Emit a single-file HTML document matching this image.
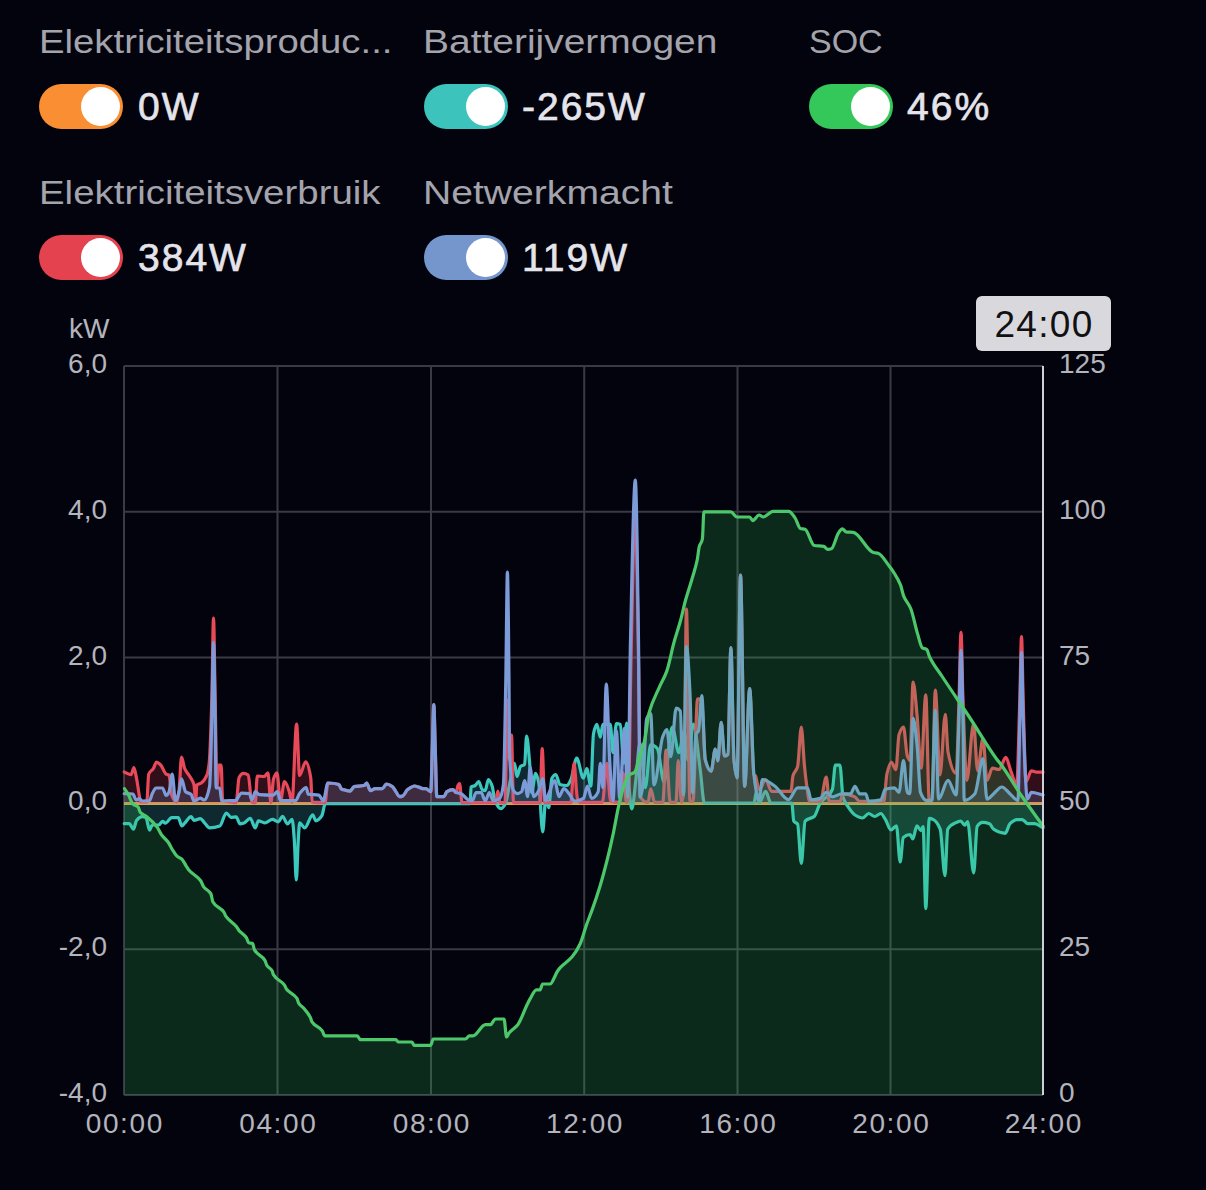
<!DOCTYPE html>
<html><head><meta charset="utf-8"><style>
html,body{margin:0;padding:0;background:#03030d;width:1206px;height:1190px;overflow:hidden;font-family:"Liberation Sans",sans-serif}
.lab{position:absolute;color:#a4a4ac;font-size:33px;line-height:40px;white-space:nowrap;transform-origin:0 0}
.tog{position:absolute;width:84px;height:44.8px;border-radius:22.4px}
.knob{position:absolute;right:3px;top:3px;width:39px;height:39px;border-radius:50%;background:#fff}
.val{position:absolute;color:#e4e4ea;font-size:39px;line-height:48px;letter-spacing:2px;white-space:nowrap;-webkit-text-stroke:0.7px #e4e4ea}
svg{position:absolute;left:0;top:0}
.ln{fill:none;stroke-width:3.2;stroke-linejoin:round;stroke-linecap:round}
.ax{fill:#b4b4bc;font-size:28px;font-family:"Liberation Sans",sans-serif}
</style></head><body>
<div class="lab" style="left:39.3px;top:22px;transform:scaleX(1.161)">Elektriciteitsproduc...</div><div class="tog" style="left:39px;top:83.8px;background:#f98e32"><div class="knob"></div></div><div class="val" style="left:138px;top:82.5px">0W</div><div class="lab" style="left:423.0px;top:22px;transform:scaleX(1.18)">Batterijvermogen</div><div class="tog" style="left:424px;top:83.8px;background:#3cc4bc"><div class="knob"></div></div><div class="val" style="left:522px;top:82.5px">-265W</div><div class="lab" style="left:809.4px;top:22px;transform:scaleX(1.03)">SOC</div><div class="tog" style="left:809px;top:83.8px;background:#34c759"><div class="knob"></div></div><div class="val" style="left:907px;top:82.5px">46%</div><div class="lab" style="left:39.3px;top:173px;transform:scaleX(1.164)">Elektriciteitsverbruik</div><div class="tog" style="left:39px;top:234.8px;background:#e5424f"><div class="knob"></div></div><div class="val" style="left:138px;top:233.5px">384W</div><div class="lab" style="left:423.0px;top:173px;transform:scaleX(1.185)">Netwerkmacht</div><div class="tog" style="left:424px;top:234.8px;background:#7596cc"><div class="knob"></div></div><div class="val" style="left:522px;top:233.5px">119W</div>
<svg width="1206" height="1190" viewBox="0 0 1206 1190">
<g stroke="#3a3a44" stroke-width="2"><line x1="124.0" y1="366" x2="124.0" y2="1095"/><line x1="277.5" y1="366" x2="277.5" y2="1095"/><line x1="431.0" y1="366" x2="431.0" y2="1095"/><line x1="584.2" y1="366" x2="584.2" y2="1095"/><line x1="737.5" y1="366" x2="737.5" y2="1095"/><line x1="890.5" y1="366" x2="890.5" y2="1095"/><line x1="124" y1="366.0" x2="1043" y2="366.0"/><line x1="124" y1="511.8" x2="1043" y2="511.8"/><line x1="124" y1="657.6" x2="1043" y2="657.6"/><line x1="124" y1="803.4" x2="1043" y2="803.4"/><line x1="124" y1="949.2" x2="1043" y2="949.2"/><line x1="124" y1="1095.0" x2="1043" y2="1095.0"/></g>
<line x1="124" y1="803.4" x2="1043" y2="803.4" stroke="#f0a040" stroke-width="3"/>
<path d="M124.2,823.6 C125.9,823.6 127.5,823.6 129.2,823.6 C130.6,823.6 132.0,829.2 133.4,829.2 C134.5,829.2 135.5,821.6 136.6,820.4 C138.5,818.3 140.3,816.7 142.2,816.7 C143.4,816.7 144.7,817.0 145.9,817.6 C147.1,818.2 148.4,830.1 149.6,830.1 C150.5,830.1 151.4,825.0 152.3,825.0 C154.5,825.0 156.6,825.0 158.8,825.0 C160.0,825.0 161.3,821.3 162.5,821.3 C163.4,821.3 164.4,823.2 165.3,823.2 C167.5,823.2 169.6,817.6 171.8,817.6 C173.9,817.6 176.1,817.6 178.2,817.6 C179.4,817.6 180.7,826.0 181.9,826.0 C182.8,826.0 183.8,824.1 184.7,823.2 C186.9,821.0 189.0,816.7 191.2,816.7 C192.1,816.7 193.0,820.4 193.9,820.4 C196.1,820.4 198.2,818.6 200.4,818.6 C201.6,818.6 202.9,821.1 204.1,822.3 C205.9,824.1 207.8,827.8 209.6,827.8 C213.0,827.8 216.4,827.2 219.8,826.0 C222.0,825.3 224.1,813.0 226.3,813.0 C227.9,813.0 229.4,817.3 231.0,817.3 C232.7,817.3 234.4,816.8 236.1,816.8 C237.4,816.8 238.8,823.9 240.1,823.9 C241.5,823.9 242.8,823.4 244.2,822.9 C246.2,822.2 248.2,818.3 250.2,818.3 C251.9,818.3 253.6,827.9 255.3,827.9 C256.3,827.9 257.3,820.8 258.3,820.8 C260.6,820.8 263.0,822.9 265.3,822.9 C267.7,822.9 270.0,819.3 272.4,819.3 C274.4,819.3 276.4,821.8 278.4,821.8 C279.8,821.8 281.1,816.3 282.5,816.3 C284.2,816.3 285.8,823.9 287.5,823.9 C289.0,823.9 290.6,819.3 292.1,819.3 C292.8,819.3 293.6,830.6 294.3,840.0 C295.0,848.6 295.6,880.0 296.3,880.0 C297.0,880.0 297.6,850.4 298.3,840.0 C298.7,833.2 299.2,822.9 299.6,822.9 C301.3,822.9 303.0,827.9 304.7,827.9 C307.4,827.9 310.0,814.8 312.7,814.8 C313.7,814.8 314.8,820.8 315.8,820.8 C317.8,820.8 319.8,818.6 321.8,815.8 C323.0,814.1 324.1,803.7 325.3,803.7 C373.6,803.7 421.8,803.7 470.1,803.7 C470.4,803.7 470.8,787.3 471.1,787.0 C472.5,785.8 473.8,786.3 475.2,785.5 C476.4,784.8 477.5,781.5 478.7,781.5 C479.9,781.5 481.0,788.9 482.2,789.6 C483.2,790.2 484.3,790.6 485.3,790.6 C486.3,790.6 487.3,779.5 488.3,779.5 C489.6,779.5 491.0,782.8 492.3,786.6 C493.1,788.9 494.0,798.8 494.8,800.7 C496.8,805.4 498.9,808.7 500.9,808.7 C502.4,808.7 503.9,806.4 505.4,803.7 C506.8,801.2 508.1,790.6 509.5,784.5 C511.2,777.1 512.8,763.4 514.5,763.4 C515.3,763.4 516.2,776.5 517.0,776.5 C518.2,776.5 519.3,767.4 520.5,766.4 C521.9,765.2 523.2,765.8 524.6,764.4 C525.3,763.7 525.9,736.1 526.6,736.1 C527.6,736.1 528.6,751.1 529.6,762.4 C530.3,769.9 530.9,792.6 531.6,792.6 C533.0,792.6 534.3,773.4 535.7,773.4 C536.7,773.4 537.7,777.8 538.7,782.5 C540.0,788.8 541.4,831.9 542.7,831.9 C543.7,831.9 544.8,798.7 545.8,798.7 C546.8,798.7 547.8,807.7 548.8,807.7 C549.8,807.7 550.8,780.4 551.8,778.5 C553.1,776.0 554.5,774.5 555.8,774.5 C557.2,774.5 558.5,784.1 559.9,784.5 C562.2,785.2 564.6,785.5 566.9,785.5 C568.3,785.5 569.6,782.3 571.0,779.5 C572.9,775.6 574.8,758.0 576.7,758.0 C578.9,758.0 581.2,778.2 583.4,778.2 C584.5,778.2 585.7,768.7 586.8,768.7 C588.1,768.7 589.5,786.2 590.8,786.2 C591.7,786.2 592.6,738.3 593.5,733.8 C594.6,728.2 595.8,724.4 596.9,724.4 C598.0,724.4 599.2,737.1 600.3,737.1 C601.2,737.1 602.0,724.4 602.9,724.4 C605.4,724.4 607.8,724.4 610.3,724.4 C611.2,724.4 612.1,752.6 613.0,752.6 C614.1,752.6 615.3,723.7 616.4,723.7 C617.7,723.7 619.1,723.9 620.4,724.4 C621.5,724.8 622.7,763.4 623.8,763.4 C624.7,763.4 625.6,723.0 626.5,723.0 C627.4,723.0 628.3,778.4 629.2,788.9 C630.1,799.0 630.9,809.0 631.8,809.0 C633.2,809.0 634.5,790.5 635.9,779.5 C637.2,768.8 638.6,743.2 639.9,743.2 C641.7,743.2 643.5,787.6 645.3,787.6 C647.1,787.6 648.9,744.5 650.7,744.5 C652.9,744.5 655.2,746.2 657.4,748.6 C659.6,751.0 661.9,782.2 664.1,782.2 C666.8,782.2 669.5,727.0 672.2,727.0 C674.4,727.0 676.7,752.6 678.9,752.6 C680.7,752.6 682.5,731.1 684.3,731.1 C685.5,731.1 686.8,760.0 688.0,760.0 C689.8,760.0 691.6,724.0 693.4,724.0 C695.7,724.0 697.9,752.8 700.2,769.4 C701.6,779.7 703.0,803.0 704.4,803.0 C720.9,803.0 737.5,803.0 754.0,803.0 C754.8,803.0 755.7,791.3 756.5,791.3 C757.3,791.3 758.2,803.0 759.0,803.0 C761.2,803.0 763.5,791.3 765.7,791.3 C767.4,791.3 769.1,803.0 770.8,803.0 C777.8,803.0 784.8,803.0 791.8,803.0 C792.5,803.0 793.1,820.0 793.8,821.1 C795.1,823.1 796.3,822.2 797.6,824.1 C798.8,825.9 800.1,863.4 801.3,863.4 C802.6,863.4 803.8,822.5 805.1,821.1 C808.1,817.7 811.2,819.1 814.2,816.5 C816.2,814.8 818.3,806.1 820.3,802.9 C824.3,796.6 828.4,798.7 832.4,789.3 C833.4,787.0 834.4,765.1 835.4,765.1 C836.9,765.1 838.4,765.1 839.9,765.1 C840.9,765.1 842.0,793.3 843.0,796.9 C844.5,802.1 846.0,803.6 847.5,805.9 C850.0,809.8 852.5,813.5 855.0,815.0 C857.5,816.5 860.1,818.0 862.6,818.0 C864.6,818.0 866.7,813.5 868.7,813.5 C870.7,813.5 872.7,816.5 874.7,816.5 C876.7,816.5 878.8,813.5 880.8,813.5 C882.4,813.5 883.9,817.2 885.5,819.6 C887.3,822.4 889.1,829.9 890.9,829.9 C892.7,829.9 894.6,825.8 896.4,825.8 C897.7,825.8 898.9,862.0 900.2,862.0 C901.2,862.0 902.3,838.3 903.3,837.4 C905.6,835.5 907.8,834.7 910.1,834.7 C911.0,834.7 911.9,838.8 912.8,838.8 C914.2,838.8 915.5,825.8 916.9,825.8 C918.3,825.8 919.6,830.6 921.0,830.6 C921.7,830.6 922.4,826.5 923.1,826.5 C924.0,826.5 924.9,908.6 925.8,908.6 C927.0,908.6 928.1,818.3 929.3,818.3 C930.7,818.3 932.0,818.9 933.4,819.6 C935.7,820.7 937.9,823.4 940.2,829.2 C941.8,833.3 943.4,875.7 945.0,875.7 C945.9,875.7 946.8,830.8 947.7,829.2 C950.7,824.0 953.6,823.7 956.6,822.4 C958.0,821.8 959.3,821.0 960.7,821.0 C962.1,821.0 963.4,825.1 964.8,825.1 C965.7,825.1 966.7,821.7 967.6,821.7 C969.6,821.7 971.7,873.0 973.7,873.0 C974.8,873.0 976.0,828.2 977.1,826.5 C978.9,823.7 980.8,822.4 982.6,822.4 C984.9,822.4 987.2,822.9 989.5,823.7 C990.9,824.2 992.2,828.4 993.6,829.2 C997.5,831.6 1001.3,833.3 1005.2,833.3 C1006.8,833.3 1008.4,825.2 1010.0,823.7 C1012.3,821.5 1014.5,819.6 1016.8,819.6 C1018.6,819.6 1020.5,819.6 1022.3,819.6 C1024.1,819.6 1026.0,823.7 1027.8,823.7 C1030.1,823.7 1032.3,823.7 1034.6,823.7 C1037.4,823.7 1040.2,826.4 1043.0,827.8 L1043.0,803.4 L124.2,803.4 Z" fill="rgba(60,201,189,0.2)"/>
<path d="M124.2,823.6 C125.9,823.6 127.5,823.6 129.2,823.6 C130.6,823.6 132.0,829.2 133.4,829.2 C134.5,829.2 135.5,821.6 136.6,820.4 C138.5,818.3 140.3,816.7 142.2,816.7 C143.4,816.7 144.7,817.0 145.9,817.6 C147.1,818.2 148.4,830.1 149.6,830.1 C150.5,830.1 151.4,825.0 152.3,825.0 C154.5,825.0 156.6,825.0 158.8,825.0 C160.0,825.0 161.3,821.3 162.5,821.3 C163.4,821.3 164.4,823.2 165.3,823.2 C167.5,823.2 169.6,817.6 171.8,817.6 C173.9,817.6 176.1,817.6 178.2,817.6 C179.4,817.6 180.7,826.0 181.9,826.0 C182.8,826.0 183.8,824.1 184.7,823.2 C186.9,821.0 189.0,816.7 191.2,816.7 C192.1,816.7 193.0,820.4 193.9,820.4 C196.1,820.4 198.2,818.6 200.4,818.6 C201.6,818.6 202.9,821.1 204.1,822.3 C205.9,824.1 207.8,827.8 209.6,827.8 C213.0,827.8 216.4,827.2 219.8,826.0 C222.0,825.3 224.1,813.0 226.3,813.0 C227.9,813.0 229.4,817.3 231.0,817.3 C232.7,817.3 234.4,816.8 236.1,816.8 C237.4,816.8 238.8,823.9 240.1,823.9 C241.5,823.9 242.8,823.4 244.2,822.9 C246.2,822.2 248.2,818.3 250.2,818.3 C251.9,818.3 253.6,827.9 255.3,827.9 C256.3,827.9 257.3,820.8 258.3,820.8 C260.6,820.8 263.0,822.9 265.3,822.9 C267.7,822.9 270.0,819.3 272.4,819.3 C274.4,819.3 276.4,821.8 278.4,821.8 C279.8,821.8 281.1,816.3 282.5,816.3 C284.2,816.3 285.8,823.9 287.5,823.9 C289.0,823.9 290.6,819.3 292.1,819.3 C292.8,819.3 293.6,830.6 294.3,840.0 C295.0,848.6 295.6,880.0 296.3,880.0 C297.0,880.0 297.6,850.4 298.3,840.0 C298.7,833.2 299.2,822.9 299.6,822.9 C301.3,822.9 303.0,827.9 304.7,827.9 C307.4,827.9 310.0,814.8 312.7,814.8 C313.7,814.8 314.8,820.8 315.8,820.8 C317.8,820.8 319.8,818.6 321.8,815.8 C323.0,814.1 324.1,803.7 325.3,803.7 C373.6,803.7 421.8,803.7 470.1,803.7 C470.4,803.7 470.8,787.3 471.1,787.0 C472.5,785.8 473.8,786.3 475.2,785.5 C476.4,784.8 477.5,781.5 478.7,781.5 C479.9,781.5 481.0,788.9 482.2,789.6 C483.2,790.2 484.3,790.6 485.3,790.6 C486.3,790.6 487.3,779.5 488.3,779.5 C489.6,779.5 491.0,782.8 492.3,786.6 C493.1,788.9 494.0,798.8 494.8,800.7 C496.8,805.4 498.9,808.7 500.9,808.7 C502.4,808.7 503.9,806.4 505.4,803.7 C506.8,801.2 508.1,790.6 509.5,784.5 C511.2,777.1 512.8,763.4 514.5,763.4 C515.3,763.4 516.2,776.5 517.0,776.5 C518.2,776.5 519.3,767.4 520.5,766.4 C521.9,765.2 523.2,765.8 524.6,764.4 C525.3,763.7 525.9,736.1 526.6,736.1 C527.6,736.1 528.6,751.1 529.6,762.4 C530.3,769.9 530.9,792.6 531.6,792.6 C533.0,792.6 534.3,773.4 535.7,773.4 C536.7,773.4 537.7,777.8 538.7,782.5 C540.0,788.8 541.4,831.9 542.7,831.9 C543.7,831.9 544.8,798.7 545.8,798.7 C546.8,798.7 547.8,807.7 548.8,807.7 C549.8,807.7 550.8,780.4 551.8,778.5 C553.1,776.0 554.5,774.5 555.8,774.5 C557.2,774.5 558.5,784.1 559.9,784.5 C562.2,785.2 564.6,785.5 566.9,785.5 C568.3,785.5 569.6,782.3 571.0,779.5 C572.9,775.6 574.8,758.0 576.7,758.0 C578.9,758.0 581.2,778.2 583.4,778.2 C584.5,778.2 585.7,768.7 586.8,768.7 C588.1,768.7 589.5,786.2 590.8,786.2 C591.7,786.2 592.6,738.3 593.5,733.8 C594.6,728.2 595.8,724.4 596.9,724.4 C598.0,724.4 599.2,737.1 600.3,737.1 C601.2,737.1 602.0,724.4 602.9,724.4 C605.4,724.4 607.8,724.4 610.3,724.4 C611.2,724.4 612.1,752.6 613.0,752.6 C614.1,752.6 615.3,723.7 616.4,723.7 C617.7,723.7 619.1,723.9 620.4,724.4 C621.5,724.8 622.7,763.4 623.8,763.4 C624.7,763.4 625.6,723.0 626.5,723.0 C627.4,723.0 628.3,778.4 629.2,788.9 C630.1,799.0 630.9,809.0 631.8,809.0 C633.2,809.0 634.5,790.5 635.9,779.5 C637.2,768.8 638.6,743.2 639.9,743.2 C641.7,743.2 643.5,787.6 645.3,787.6 C647.1,787.6 648.9,744.5 650.7,744.5 C652.9,744.5 655.2,746.2 657.4,748.6 C659.6,751.0 661.9,782.2 664.1,782.2 C666.8,782.2 669.5,727.0 672.2,727.0 C674.4,727.0 676.7,752.6 678.9,752.6 C680.7,752.6 682.5,731.1 684.3,731.1 C685.5,731.1 686.8,760.0 688.0,760.0 C689.8,760.0 691.6,724.0 693.4,724.0 C695.7,724.0 697.9,752.8 700.2,769.4 C701.6,779.7 703.0,803.0 704.4,803.0 C720.9,803.0 737.5,803.0 754.0,803.0 C754.8,803.0 755.7,791.3 756.5,791.3 C757.3,791.3 758.2,803.0 759.0,803.0 C761.2,803.0 763.5,791.3 765.7,791.3 C767.4,791.3 769.1,803.0 770.8,803.0 C777.8,803.0 784.8,803.0 791.8,803.0 C792.5,803.0 793.1,820.0 793.8,821.1 C795.1,823.1 796.3,822.2 797.6,824.1 C798.8,825.9 800.1,863.4 801.3,863.4 C802.6,863.4 803.8,822.5 805.1,821.1 C808.1,817.7 811.2,819.1 814.2,816.5 C816.2,814.8 818.3,806.1 820.3,802.9 C824.3,796.6 828.4,798.7 832.4,789.3 C833.4,787.0 834.4,765.1 835.4,765.1 C836.9,765.1 838.4,765.1 839.9,765.1 C840.9,765.1 842.0,793.3 843.0,796.9 C844.5,802.1 846.0,803.6 847.5,805.9 C850.0,809.8 852.5,813.5 855.0,815.0 C857.5,816.5 860.1,818.0 862.6,818.0 C864.6,818.0 866.7,813.5 868.7,813.5 C870.7,813.5 872.7,816.5 874.7,816.5 C876.7,816.5 878.8,813.5 880.8,813.5 C882.4,813.5 883.9,817.2 885.5,819.6 C887.3,822.4 889.1,829.9 890.9,829.9 C892.7,829.9 894.6,825.8 896.4,825.8 C897.7,825.8 898.9,862.0 900.2,862.0 C901.2,862.0 902.3,838.3 903.3,837.4 C905.6,835.5 907.8,834.7 910.1,834.7 C911.0,834.7 911.9,838.8 912.8,838.8 C914.2,838.8 915.5,825.8 916.9,825.8 C918.3,825.8 919.6,830.6 921.0,830.6 C921.7,830.6 922.4,826.5 923.1,826.5 C924.0,826.5 924.9,908.6 925.8,908.6 C927.0,908.6 928.1,818.3 929.3,818.3 C930.7,818.3 932.0,818.9 933.4,819.6 C935.7,820.7 937.9,823.4 940.2,829.2 C941.8,833.3 943.4,875.7 945.0,875.7 C945.9,875.7 946.8,830.8 947.7,829.2 C950.7,824.0 953.6,823.7 956.6,822.4 C958.0,821.8 959.3,821.0 960.7,821.0 C962.1,821.0 963.4,825.1 964.8,825.1 C965.7,825.1 966.7,821.7 967.6,821.7 C969.6,821.7 971.7,873.0 973.7,873.0 C974.8,873.0 976.0,828.2 977.1,826.5 C978.9,823.7 980.8,822.4 982.6,822.4 C984.9,822.4 987.2,822.9 989.5,823.7 C990.9,824.2 992.2,828.4 993.6,829.2 C997.5,831.6 1001.3,833.3 1005.2,833.3 C1006.8,833.3 1008.4,825.2 1010.0,823.7 C1012.3,821.5 1014.5,819.6 1016.8,819.6 C1018.6,819.6 1020.5,819.6 1022.3,819.6 C1024.1,819.6 1026.0,823.7 1027.8,823.7 C1030.1,823.7 1032.3,823.7 1034.6,823.7 C1037.4,823.7 1040.2,826.4 1043.0,827.8" class="ln" stroke="#3cc9bd"/>
<path d="M124.2,771.9 C126.5,772.8 128.8,774.7 131.1,774.7 C132.0,774.7 133.0,767.7 133.9,767.7 C134.8,767.7 135.7,774.3 136.6,778.8 C137.5,783.4 138.5,790.6 139.4,796.4 C139.7,798.3 140.0,801.9 140.3,801.9 C142.5,801.9 144.6,801.9 146.8,801.9 C147.4,801.9 148.1,775.8 148.7,774.2 C150.2,770.4 151.8,771.0 153.3,768.7 C154.4,767.1 155.4,762.2 156.5,762.2 C157.9,762.2 159.3,763.7 160.7,765.0 C162.5,766.7 164.4,773.3 166.2,774.2 C167.1,774.7 168.1,774.5 169.0,775.1 C169.9,775.7 170.9,793.2 171.8,795.5 C173.3,799.3 174.9,801.9 176.4,801.9 C177.3,801.9 178.2,796.0 179.1,789.9 C179.9,784.5 180.7,757.1 181.5,757.1 C182.6,757.1 183.6,766.3 184.7,768.7 C186.5,772.8 188.4,773.8 190.2,777.0 C191.4,779.1 192.7,780.1 193.9,784.4 C194.5,786.6 195.2,801.0 195.8,801.0 C196.1,801.0 196.4,785.7 196.7,785.3 C198.2,783.4 199.8,784.1 201.3,783.0 C203.2,781.6 205.0,779.6 206.9,775.1 C207.7,773.2 208.4,769.6 209.2,763.1 C210.1,755.8 210.9,728.6 211.8,700.0 C212.4,681.3 212.9,618.0 213.5,618.0 C214.1,618.0 214.6,672.6 215.2,700.0 C215.8,729.0 216.4,787.0 217.0,787.0 C217.6,787.0 218.3,765.0 218.9,765.0 C219.7,765.0 220.4,765.0 221.2,765.0 C221.7,765.0 222.1,799.7 222.6,800.0 C225.1,801.6 227.5,801.5 230.0,801.9 C232.0,802.2 234.1,802.7 236.1,802.7 C237.1,802.7 238.1,779.4 239.1,777.5 C240.5,775.0 241.8,773.4 243.2,773.4 C244.9,773.4 246.5,773.9 248.2,775.0 C249.2,775.7 250.2,794.1 251.2,798.7 C251.5,800.2 251.9,802.1 252.2,802.2 C253.2,802.6 254.3,802.7 255.3,802.7 C256.0,802.7 256.6,776.0 257.3,776.0 C259.6,776.0 262.0,776.5 264.3,776.5 C265.5,776.5 266.7,772.9 267.9,772.9 C268.9,772.9 269.9,802.7 270.9,802.7 C271.7,802.7 272.6,782.2 273.4,779.5 C274.6,775.7 275.7,772.9 276.9,772.9 C278.1,772.9 279.3,800.7 280.5,800.7 C281.8,800.7 283.2,781.5 284.5,781.5 C286.0,781.5 287.5,786.5 289.0,790.6 C290.0,793.3 291.0,802.2 292.0,802.2 C293.5,802.2 295.1,724.0 296.6,724.0 C297.6,724.0 298.6,775.5 299.6,775.5 C301.6,775.5 303.7,761.8 305.7,761.8 C307.4,761.8 309.0,767.5 310.7,777.5 C311.2,780.5 311.7,802.1 312.2,802.2 C315.7,802.6 319.3,802.7 322.8,802.7 C323.5,802.7 324.3,802.7 325.0,802.7 C326.0,802.7 326.9,783.0 327.9,783.0 C331.6,783.0 335.3,783.3 339.0,784.5 C339.7,784.7 340.3,788.1 341.0,788.6 C341.7,789.1 342.3,789.4 343.0,789.6 C345.4,790.4 347.7,791.1 350.1,791.1 C351.4,791.1 352.8,786.9 354.1,786.6 C357.5,785.8 360.8,786.3 364.2,785.5 C365.0,785.3 365.9,783.0 366.7,783.0 C367.9,783.0 369.1,790.6 370.3,790.6 C372.0,790.6 373.6,788.6 375.3,788.6 C377.7,788.6 380.0,788.6 382.4,788.6 C383.7,788.6 385.1,784.0 386.4,784.0 C388.4,784.0 390.4,785.2 392.4,786.6 C393.8,787.5 395.1,790.7 396.5,792.6 C397.5,794.0 398.5,796.6 399.5,796.6 C400.5,796.6 401.5,796.4 402.5,796.1 C404.2,795.6 405.9,790.9 407.6,789.6 C409.9,787.9 412.3,786.0 414.6,786.0 C416.0,786.0 417.3,786.6 418.7,787.0 C420.0,787.4 421.4,788.6 422.7,788.6 C423.7,788.6 424.7,788.6 425.7,788.6 C427.4,788.6 429.1,791.6 430.8,791.6 C431.3,791.6 431.8,764.5 432.3,750.0 C432.8,735.5 433.3,704.5 433.8,704.5 C434.3,704.5 434.8,734.7 435.3,750.0 C435.8,765.3 436.3,796.6 436.8,796.6 C439.2,796.6 441.5,796.6 443.9,796.6 C444.9,796.6 445.9,792.2 446.9,791.6 C448.9,790.4 450.9,789.6 452.9,789.6 C453.9,789.6 455.0,792.6 456.0,792.6 C456.7,792.6 457.3,786.8 458.0,785.5 C458.5,784.6 459.0,783.5 459.5,783.5 C460.4,783.5 461.2,802.7 462.1,802.7 C473.2,802.7 484.2,802.7 495.3,802.7 C496.2,802.7 497.0,791.1 497.9,791.1 C498.6,791.1 499.2,802.7 499.9,802.7 C501.6,802.7 503.3,802.7 505.0,802.7 C505.8,802.7 506.6,700.0 507.4,700.0 C508.1,700.0 508.8,760.0 509.5,760.0 C510.2,760.0 510.8,735.0 511.5,735.0 C512.2,735.0 512.8,802.7 513.5,802.7 C522.3,802.7 531.2,802.7 540.0,802.7 C540.7,802.7 541.5,748.7 542.2,748.7 C543.0,748.7 543.9,802.7 544.7,802.7 C553.5,802.7 562.2,802.7 571.0,802.7 C571.3,802.7 571.7,794.3 572.0,790.0 C572.7,781.4 573.3,763.4 574.0,763.4 C575.1,763.4 576.3,795.3 577.4,798.3 C578.3,800.6 579.1,802.4 580.0,802.4 C587.4,802.4 594.9,802.4 602.3,802.4 C603.9,802.4 605.4,763.4 607.0,763.4 C608.1,763.4 609.2,800.6 610.3,801.0 C613.5,802.1 616.8,802.4 620.0,802.4 C621.0,802.4 622.1,772.8 623.1,772.8 C624.2,772.8 625.4,802.4 626.5,802.4 C627.2,802.4 627.8,800.3 628.5,797.0 C629.3,792.9 630.2,696.8 631.0,660.0 C632.4,596.7 633.9,506.0 635.3,506.0 C636.4,506.0 637.4,598.9 638.5,660.0 C639.2,698.2 639.8,795.8 640.5,797.0 C643.0,801.4 645.5,802.4 648.0,802.4 C648.9,802.4 649.8,788.9 650.7,788.9 C652.0,788.9 653.4,802.4 654.7,802.4 C657.4,802.4 660.1,802.4 662.8,802.4 C663.9,802.4 665.0,750.0 666.1,750.0 C667.5,750.0 668.8,802.4 670.2,802.4 C672.1,802.4 674.1,802.4 676.0,802.4 C676.7,802.4 677.5,760.7 678.2,760.7 C679.3,760.7 680.5,802.4 681.6,802.4 C682.4,802.4 683.2,797.7 684.0,790.0 C684.8,782.3 685.6,609.0 686.4,609.0 C687.6,609.0 688.8,801.3 690.0,801.3 C691.0,801.3 692.0,801.3 693.0,801.3 C694.5,801.3 696.1,698.8 697.6,698.8 C699.0,698.8 700.4,699.2 701.8,700.0 C702.9,700.7 704.1,754.9 705.2,759.3 C707.2,766.9 709.1,771.1 711.1,771.1 C712.5,771.1 713.9,749.2 715.3,749.2 C716.1,749.2 717.0,761.0 717.8,761.0 C718.9,761.0 720.1,722.4 721.2,722.4 C722.3,722.4 723.4,756.0 724.5,756.0 C725.6,756.0 726.8,755.4 727.9,754.3 C728.9,753.3 729.9,647.6 730.9,647.6 C731.9,647.6 733.0,749.8 734.0,760.0 C735.0,770.2 736.1,777.8 737.1,777.8 C738.2,777.8 739.4,575.0 740.5,575.0 C741.9,575.0 743.3,786.2 744.7,786.2 C746.4,786.2 748.0,688.7 749.7,688.7 C751.1,688.7 752.5,772.3 753.9,774.5 C754.5,775.4 755.0,775.3 755.6,776.1 C756.7,777.7 757.9,790.0 759.0,790.0 C761.2,790.0 763.5,779.5 765.7,779.5 C767.7,779.5 769.6,791.3 771.6,791.3 C778.0,791.3 784.5,791.3 790.9,791.3 C791.6,791.3 792.3,778.1 793.0,775.7 C794.5,770.5 796.1,771.8 797.6,766.6 C798.8,762.4 800.1,727.2 801.3,727.2 C802.3,727.2 803.4,754.5 804.4,765.1 C805.1,772.6 805.9,779.7 806.6,784.7 C807.6,791.7 808.7,801.4 809.7,801.4 C813.2,801.4 816.8,801.4 820.3,801.4 C822.3,801.4 824.3,777.2 826.3,777.2 C827.3,777.2 828.3,801.4 829.3,801.4 C832.9,801.4 836.4,801.4 840.0,801.4 C841.0,801.4 842.0,793.8 843.0,793.8 C847.0,793.8 851.0,795.1 855.0,796.9 C856.5,797.6 858.1,801.4 859.6,801.4 C867.7,801.4 875.7,801.4 883.8,801.4 C884.8,801.4 885.9,778.6 886.9,774.2 C888.4,767.8 889.9,762.0 891.4,762.0 C892.9,762.0 894.4,769.6 895.9,769.6 C896.9,769.6 898.0,738.0 899.0,734.8 C900.5,730.2 902.0,727.2 903.5,727.2 C904.8,727.2 906.0,752.7 907.3,756.0 C908.2,758.4 909.1,760.5 910.0,760.5 C911.0,760.5 912.1,682.1 913.1,682.1 C914.4,682.1 915.8,702.0 917.1,715.7 C918.4,729.4 919.8,768.2 921.1,768.2 C922.7,768.2 924.2,694.9 925.8,694.9 C926.9,694.9 928.1,800.4 929.2,800.4 C930.1,800.4 931.1,800.4 932.0,800.4 C933.1,800.4 934.2,690.2 935.3,690.2 C936.9,690.2 938.4,774.9 940.0,774.9 C941.8,774.9 943.5,714.4 945.3,714.4 C946.2,714.4 947.1,747.5 948.0,752.0 C950.7,765.6 953.4,773.5 956.1,773.5 C957.1,773.5 958.0,728.3 959.0,700.0 C959.7,680.5 960.3,632.3 961.0,632.3 C961.7,632.3 962.3,682.2 963.0,700.0 C964.3,733.8 965.5,780.3 966.8,780.3 C969.1,780.3 971.3,723.8 973.6,723.8 C974.9,723.8 976.3,770.8 977.6,770.8 C979.4,770.8 981.2,738.6 983.0,738.6 C984.3,738.6 985.7,780.3 987.0,780.3 C988.8,780.3 990.6,768.2 992.4,768.2 C994.6,768.2 996.9,769.5 999.1,769.5 C1001.3,769.5 1003.6,757.4 1005.8,757.4 C1007.6,757.4 1009.4,767.6 1011.2,772.2 C1013.0,776.8 1014.8,785.0 1016.6,785.0 C1017.7,785.0 1018.7,733.7 1019.8,700.0 C1020.4,682.1 1020.9,636.5 1021.5,636.5 C1022.1,636.5 1022.6,681.3 1023.2,700.0 C1024.1,730.9 1025.1,781.6 1026.0,781.6 C1027.8,781.6 1029.6,770.8 1031.4,770.8 C1033.2,770.8 1035.0,772.2 1036.8,772.2 C1038.9,772.2 1040.9,772.2 1043.0,772.2 L1043.0,803.4 L124.2,803.4 Z" fill="rgba(229,66,79,0.2)"/>
<path d="M124.2,771.9 C126.5,772.8 128.8,774.7 131.1,774.7 C132.0,774.7 133.0,767.7 133.9,767.7 C134.8,767.7 135.7,774.3 136.6,778.8 C137.5,783.4 138.5,790.6 139.4,796.4 C139.7,798.3 140.0,801.9 140.3,801.9 C142.5,801.9 144.6,801.9 146.8,801.9 C147.4,801.9 148.1,775.8 148.7,774.2 C150.2,770.4 151.8,771.0 153.3,768.7 C154.4,767.1 155.4,762.2 156.5,762.2 C157.9,762.2 159.3,763.7 160.7,765.0 C162.5,766.7 164.4,773.3 166.2,774.2 C167.1,774.7 168.1,774.5 169.0,775.1 C169.9,775.7 170.9,793.2 171.8,795.5 C173.3,799.3 174.9,801.9 176.4,801.9 C177.3,801.9 178.2,796.0 179.1,789.9 C179.9,784.5 180.7,757.1 181.5,757.1 C182.6,757.1 183.6,766.3 184.7,768.7 C186.5,772.8 188.4,773.8 190.2,777.0 C191.4,779.1 192.7,780.1 193.9,784.4 C194.5,786.6 195.2,801.0 195.8,801.0 C196.1,801.0 196.4,785.7 196.7,785.3 C198.2,783.4 199.8,784.1 201.3,783.0 C203.2,781.6 205.0,779.6 206.9,775.1 C207.7,773.2 208.4,769.6 209.2,763.1 C210.1,755.8 210.9,728.6 211.8,700.0 C212.4,681.3 212.9,618.0 213.5,618.0 C214.1,618.0 214.6,672.6 215.2,700.0 C215.8,729.0 216.4,787.0 217.0,787.0 C217.6,787.0 218.3,765.0 218.9,765.0 C219.7,765.0 220.4,765.0 221.2,765.0 C221.7,765.0 222.1,799.7 222.6,800.0 C225.1,801.6 227.5,801.5 230.0,801.9 C232.0,802.2 234.1,802.7 236.1,802.7 C237.1,802.7 238.1,779.4 239.1,777.5 C240.5,775.0 241.8,773.4 243.2,773.4 C244.9,773.4 246.5,773.9 248.2,775.0 C249.2,775.7 250.2,794.1 251.2,798.7 C251.5,800.2 251.9,802.1 252.2,802.2 C253.2,802.6 254.3,802.7 255.3,802.7 C256.0,802.7 256.6,776.0 257.3,776.0 C259.6,776.0 262.0,776.5 264.3,776.5 C265.5,776.5 266.7,772.9 267.9,772.9 C268.9,772.9 269.9,802.7 270.9,802.7 C271.7,802.7 272.6,782.2 273.4,779.5 C274.6,775.7 275.7,772.9 276.9,772.9 C278.1,772.9 279.3,800.7 280.5,800.7 C281.8,800.7 283.2,781.5 284.5,781.5 C286.0,781.5 287.5,786.5 289.0,790.6 C290.0,793.3 291.0,802.2 292.0,802.2 C293.5,802.2 295.1,724.0 296.6,724.0 C297.6,724.0 298.6,775.5 299.6,775.5 C301.6,775.5 303.7,761.8 305.7,761.8 C307.4,761.8 309.0,767.5 310.7,777.5 C311.2,780.5 311.7,802.1 312.2,802.2 C315.7,802.6 319.3,802.7 322.8,802.7 C323.5,802.7 324.3,802.7 325.0,802.7 C326.0,802.7 326.9,783.0 327.9,783.0 C331.6,783.0 335.3,783.3 339.0,784.5 C339.7,784.7 340.3,788.1 341.0,788.6 C341.7,789.1 342.3,789.4 343.0,789.6 C345.4,790.4 347.7,791.1 350.1,791.1 C351.4,791.1 352.8,786.9 354.1,786.6 C357.5,785.8 360.8,786.3 364.2,785.5 C365.0,785.3 365.9,783.0 366.7,783.0 C367.9,783.0 369.1,790.6 370.3,790.6 C372.0,790.6 373.6,788.6 375.3,788.6 C377.7,788.6 380.0,788.6 382.4,788.6 C383.7,788.6 385.1,784.0 386.4,784.0 C388.4,784.0 390.4,785.2 392.4,786.6 C393.8,787.5 395.1,790.7 396.5,792.6 C397.5,794.0 398.5,796.6 399.5,796.6 C400.5,796.6 401.5,796.4 402.5,796.1 C404.2,795.6 405.9,790.9 407.6,789.6 C409.9,787.9 412.3,786.0 414.6,786.0 C416.0,786.0 417.3,786.6 418.7,787.0 C420.0,787.4 421.4,788.6 422.7,788.6 C423.7,788.6 424.7,788.6 425.7,788.6 C427.4,788.6 429.1,791.6 430.8,791.6 C431.3,791.6 431.8,764.5 432.3,750.0 C432.8,735.5 433.3,704.5 433.8,704.5 C434.3,704.5 434.8,734.7 435.3,750.0 C435.8,765.3 436.3,796.6 436.8,796.6 C439.2,796.6 441.5,796.6 443.9,796.6 C444.9,796.6 445.9,792.2 446.9,791.6 C448.9,790.4 450.9,789.6 452.9,789.6 C453.9,789.6 455.0,792.6 456.0,792.6 C456.7,792.6 457.3,786.8 458.0,785.5 C458.5,784.6 459.0,783.5 459.5,783.5 C460.4,783.5 461.2,802.7 462.1,802.7 C473.2,802.7 484.2,802.7 495.3,802.7 C496.2,802.7 497.0,791.1 497.9,791.1 C498.6,791.1 499.2,802.7 499.9,802.7 C501.6,802.7 503.3,802.7 505.0,802.7 C505.8,802.7 506.6,700.0 507.4,700.0 C508.1,700.0 508.8,760.0 509.5,760.0 C510.2,760.0 510.8,735.0 511.5,735.0 C512.2,735.0 512.8,802.7 513.5,802.7 C522.3,802.7 531.2,802.7 540.0,802.7 C540.7,802.7 541.5,748.7 542.2,748.7 C543.0,748.7 543.9,802.7 544.7,802.7 C553.5,802.7 562.2,802.7 571.0,802.7 C571.3,802.7 571.7,794.3 572.0,790.0 C572.7,781.4 573.3,763.4 574.0,763.4 C575.1,763.4 576.3,795.3 577.4,798.3 C578.3,800.6 579.1,802.4 580.0,802.4 C587.4,802.4 594.9,802.4 602.3,802.4 C603.9,802.4 605.4,763.4 607.0,763.4 C608.1,763.4 609.2,800.6 610.3,801.0 C613.5,802.1 616.8,802.4 620.0,802.4 C621.0,802.4 622.1,772.8 623.1,772.8 C624.2,772.8 625.4,802.4 626.5,802.4 C627.2,802.4 627.8,800.3 628.5,797.0 C629.3,792.9 630.2,696.8 631.0,660.0 C632.4,596.7 633.9,506.0 635.3,506.0 C636.4,506.0 637.4,598.9 638.5,660.0 C639.2,698.2 639.8,795.8 640.5,797.0 C643.0,801.4 645.5,802.4 648.0,802.4 C648.9,802.4 649.8,788.9 650.7,788.9 C652.0,788.9 653.4,802.4 654.7,802.4 C657.4,802.4 660.1,802.4 662.8,802.4 C663.9,802.4 665.0,750.0 666.1,750.0 C667.5,750.0 668.8,802.4 670.2,802.4 C672.1,802.4 674.1,802.4 676.0,802.4 C676.7,802.4 677.5,760.7 678.2,760.7 C679.3,760.7 680.5,802.4 681.6,802.4 C682.4,802.4 683.2,797.7 684.0,790.0 C684.8,782.3 685.6,609.0 686.4,609.0 C687.6,609.0 688.8,801.3 690.0,801.3 C691.0,801.3 692.0,801.3 693.0,801.3 C694.5,801.3 696.1,698.8 697.6,698.8 C699.0,698.8 700.4,699.2 701.8,700.0 C702.9,700.7 704.1,754.9 705.2,759.3 C707.2,766.9 709.1,771.1 711.1,771.1 C712.5,771.1 713.9,749.2 715.3,749.2 C716.1,749.2 717.0,761.0 717.8,761.0 C718.9,761.0 720.1,722.4 721.2,722.4 C722.3,722.4 723.4,756.0 724.5,756.0 C725.6,756.0 726.8,755.4 727.9,754.3 C728.9,753.3 729.9,647.6 730.9,647.6 C731.9,647.6 733.0,749.8 734.0,760.0 C735.0,770.2 736.1,777.8 737.1,777.8 C738.2,777.8 739.4,575.0 740.5,575.0 C741.9,575.0 743.3,786.2 744.7,786.2 C746.4,786.2 748.0,688.7 749.7,688.7 C751.1,688.7 752.5,772.3 753.9,774.5 C754.5,775.4 755.0,775.3 755.6,776.1 C756.7,777.7 757.9,790.0 759.0,790.0 C761.2,790.0 763.5,779.5 765.7,779.5 C767.7,779.5 769.6,791.3 771.6,791.3 C778.0,791.3 784.5,791.3 790.9,791.3 C791.6,791.3 792.3,778.1 793.0,775.7 C794.5,770.5 796.1,771.8 797.6,766.6 C798.8,762.4 800.1,727.2 801.3,727.2 C802.3,727.2 803.4,754.5 804.4,765.1 C805.1,772.6 805.9,779.7 806.6,784.7 C807.6,791.7 808.7,801.4 809.7,801.4 C813.2,801.4 816.8,801.4 820.3,801.4 C822.3,801.4 824.3,777.2 826.3,777.2 C827.3,777.2 828.3,801.4 829.3,801.4 C832.9,801.4 836.4,801.4 840.0,801.4 C841.0,801.4 842.0,793.8 843.0,793.8 C847.0,793.8 851.0,795.1 855.0,796.9 C856.5,797.6 858.1,801.4 859.6,801.4 C867.7,801.4 875.7,801.4 883.8,801.4 C884.8,801.4 885.9,778.6 886.9,774.2 C888.4,767.8 889.9,762.0 891.4,762.0 C892.9,762.0 894.4,769.6 895.9,769.6 C896.9,769.6 898.0,738.0 899.0,734.8 C900.5,730.2 902.0,727.2 903.5,727.2 C904.8,727.2 906.0,752.7 907.3,756.0 C908.2,758.4 909.1,760.5 910.0,760.5 C911.0,760.5 912.1,682.1 913.1,682.1 C914.4,682.1 915.8,702.0 917.1,715.7 C918.4,729.4 919.8,768.2 921.1,768.2 C922.7,768.2 924.2,694.9 925.8,694.9 C926.9,694.9 928.1,800.4 929.2,800.4 C930.1,800.4 931.1,800.4 932.0,800.4 C933.1,800.4 934.2,690.2 935.3,690.2 C936.9,690.2 938.4,774.9 940.0,774.9 C941.8,774.9 943.5,714.4 945.3,714.4 C946.2,714.4 947.1,747.5 948.0,752.0 C950.7,765.6 953.4,773.5 956.1,773.5 C957.1,773.5 958.0,728.3 959.0,700.0 C959.7,680.5 960.3,632.3 961.0,632.3 C961.7,632.3 962.3,682.2 963.0,700.0 C964.3,733.8 965.5,780.3 966.8,780.3 C969.1,780.3 971.3,723.8 973.6,723.8 C974.9,723.8 976.3,770.8 977.6,770.8 C979.4,770.8 981.2,738.6 983.0,738.6 C984.3,738.6 985.7,780.3 987.0,780.3 C988.8,780.3 990.6,768.2 992.4,768.2 C994.6,768.2 996.9,769.5 999.1,769.5 C1001.3,769.5 1003.6,757.4 1005.8,757.4 C1007.6,757.4 1009.4,767.6 1011.2,772.2 C1013.0,776.8 1014.8,785.0 1016.6,785.0 C1017.7,785.0 1018.7,733.7 1019.8,700.0 C1020.4,682.1 1020.9,636.5 1021.5,636.5 C1022.1,636.5 1022.6,681.3 1023.2,700.0 C1024.1,730.9 1025.1,781.6 1026.0,781.6 C1027.8,781.6 1029.6,770.8 1031.4,770.8 C1033.2,770.8 1035.0,772.2 1036.8,772.2 C1038.9,772.2 1040.9,772.2 1043.0,772.2" class="ln" stroke="#e84a5a"/>
<path d="M124.2,793.6 C127.1,793.7 130.0,793.7 132.9,794.0 C134.0,794.1 135.1,800.0 136.2,800.0 C137.3,800.0 138.3,798.7 139.4,798.7 C140.3,798.7 141.3,801.0 142.2,801.0 C144.7,801.0 147.1,800.9 149.6,800.5 C150.5,800.4 151.4,795.3 152.3,793.6 C153.5,791.2 154.8,788.0 156.0,788.0 C158.2,788.0 160.3,788.0 162.5,788.0 C163.7,788.0 165.0,795.5 166.2,795.5 C167.1,795.5 168.1,793.8 169.0,791.8 C170.1,789.6 171.1,774.2 172.2,774.2 C173.3,774.2 174.4,801.0 175.5,801.0 C176.7,801.0 177.9,796.1 179.1,791.8 C179.9,789.0 180.7,778.8 181.5,778.8 C182.9,778.8 184.2,790.6 185.6,791.8 C187.5,793.4 189.3,792.9 191.2,794.5 C192.1,795.3 193.0,801.0 193.9,801.0 C196.1,801.0 198.2,798.2 200.4,798.2 C201.6,798.2 202.9,800.0 204.1,800.0 C205.9,800.0 207.8,795.9 209.6,786.2 C210.3,782.3 211.1,746.8 211.8,720.0 C212.4,699.3 212.9,642.4 213.5,642.4 C214.1,642.4 214.6,686.9 215.2,720.0 C215.5,737.5 215.8,788.0 216.1,788.0 C217.3,788.0 218.6,788.0 219.8,788.0 C220.4,788.0 221.1,801.0 221.7,801.0 C224.5,801.0 227.2,800.5 230.0,800.5 C231.7,800.5 233.4,800.7 235.1,800.7 C237.3,800.7 239.4,793.1 241.6,793.1 C244.1,793.1 246.7,793.2 249.2,793.6 C250.2,793.7 251.2,799.7 252.2,799.7 C253.2,799.7 254.3,791.6 255.3,791.6 C256.6,791.6 258.0,794.5 259.3,794.6 C264.0,795.0 268.7,795.1 273.4,795.1 C274.7,795.1 276.1,791.6 277.4,791.6 C278.4,791.6 279.5,800.7 280.5,800.7 C285.5,800.7 290.6,800.7 295.6,800.7 C296.9,800.7 298.3,795.2 299.6,793.6 C301.8,790.9 304.0,787.6 306.2,787.6 C306.9,787.6 307.5,793.9 308.2,794.1 C311.7,794.9 315.3,794.4 318.8,795.1 C320.3,795.4 321.8,800.7 323.3,800.7 C324.8,800.7 326.4,783.0 327.9,783.0 C331.6,783.0 335.3,783.3 339.0,784.5 C339.7,784.7 340.3,788.1 341.0,788.6 C341.7,789.1 342.3,789.4 343.0,789.6 C345.4,790.4 347.7,791.1 350.1,791.1 C351.4,791.1 352.8,786.9 354.1,786.6 C357.5,785.8 360.8,786.3 364.2,785.5 C365.0,785.3 365.9,783.0 366.7,783.0 C367.9,783.0 369.1,790.6 370.3,790.6 C372.0,790.6 373.6,788.6 375.3,788.6 C377.7,788.6 380.0,788.6 382.4,788.6 C383.7,788.6 385.1,784.0 386.4,784.0 C388.4,784.0 390.4,785.2 392.4,786.6 C393.8,787.5 395.1,790.7 396.5,792.6 C397.5,794.0 398.5,796.6 399.5,796.6 C400.5,796.6 401.5,796.4 402.5,796.1 C404.2,795.6 405.9,790.9 407.6,789.6 C409.9,787.9 412.3,786.0 414.6,786.0 C416.0,786.0 417.3,786.6 418.7,787.0 C420.0,787.4 421.4,788.6 422.7,788.6 C423.7,788.6 424.7,788.6 425.7,788.6 C427.4,788.6 429.1,791.6 430.8,791.6 C431.3,791.6 431.8,764.5 432.3,750.0 C432.8,735.5 433.3,704.5 433.8,704.5 C434.3,704.5 434.8,734.7 435.3,750.0 C435.8,765.3 436.3,796.6 436.8,796.6 C439.2,796.6 441.5,796.6 443.9,796.6 C444.9,796.6 445.9,792.2 446.9,791.6 C448.9,790.4 450.9,789.6 452.9,789.6 C453.9,789.6 455.0,792.2 456.0,792.6 C457.7,793.2 459.3,793.1 461.0,793.6 C463.4,794.3 465.7,798.8 468.1,799.7 C469.4,800.2 470.8,800.7 472.1,800.7 C473.5,800.7 474.8,792.6 476.2,792.6 C477.9,792.6 479.5,792.6 481.2,792.6 C482.6,792.6 483.9,800.7 485.3,800.7 C486.6,800.7 488.0,792.6 489.3,792.6 C490.6,792.6 492.0,800.7 493.3,800.7 C495.3,800.7 497.4,800.0 499.4,798.7 C500.7,797.9 502.1,793.9 503.4,784.5 C504.2,778.8 505.0,723.0 505.8,680.0 C506.3,651.4 506.9,572.0 507.4,572.0 C507.9,572.0 508.5,628.3 509.0,680.0 C509.2,696.2 509.3,745.9 509.5,750.0 C510.8,782.5 512.2,788.7 513.5,790.6 C514.8,792.5 516.2,793.6 517.5,793.6 C518.9,793.6 520.2,792.8 521.6,791.6 C522.6,790.7 523.6,780.5 524.6,780.5 C525.6,780.5 526.6,796.6 527.6,796.6 C528.4,796.6 529.3,767.4 530.1,767.4 C531.3,767.4 532.5,796.6 533.7,796.6 C535.4,796.6 537.0,793.5 538.7,790.6 C540.0,788.3 541.4,778.5 542.7,778.5 C543.7,778.5 544.8,800.7 545.8,800.7 C546.8,800.7 547.8,795.9 548.8,793.6 C550.8,789.0 552.8,780.5 554.8,780.5 C556.2,780.5 557.5,796.6 558.9,796.6 C560.6,796.6 562.2,788.6 563.9,788.6 C565.6,788.6 567.3,791.6 569.0,793.6 C570.7,795.5 572.3,800.2 574.0,800.7 C574.5,800.9 574.9,801.0 575.4,801.0 C578.1,801.0 580.7,800.1 583.4,798.3 C584.8,797.4 586.1,786.2 587.5,786.2 C588.8,786.2 590.2,798.3 591.5,798.3 C593.7,798.3 596.0,796.5 598.2,791.6 C598.9,790.1 599.6,763.4 600.3,763.4 C601.2,763.4 602.0,787.6 602.9,787.6 C604.0,787.6 605.2,684.0 606.3,684.0 C607.4,684.0 608.6,742.8 609.7,760.7 C610.8,778.1 611.9,801.0 613.0,801.0 C614.1,801.0 615.3,731.1 616.4,731.1 C617.5,731.1 618.6,798.3 619.7,798.3 C621.3,798.3 622.9,728.4 624.5,728.4 C625.6,728.4 626.7,797.0 627.8,797.0 C628.7,797.0 629.6,679.1 630.5,640.0 C632.1,570.4 633.7,480.0 635.3,480.0 C636.4,480.0 637.4,564.6 638.5,640.0 C639.0,675.3 639.5,797.0 640.0,797.0 C640.9,797.0 641.7,792.5 642.6,787.6 C643.9,780.0 645.3,722.3 646.6,719.0 C648.0,715.6 649.3,713.6 650.7,713.6 C651.8,713.6 652.9,784.9 654.0,784.9 C656.9,784.9 659.9,743.6 662.8,736.5 C664.1,733.3 665.5,729.7 666.8,729.7 C668.1,729.7 669.5,756.6 670.8,756.6 C672.6,756.6 674.4,708.2 676.2,708.2 C677.6,708.2 678.9,709.1 680.3,710.9 C681.3,712.3 682.4,794.6 683.4,794.6 C684.4,794.6 685.4,646.7 686.4,646.7 C687.6,646.7 688.9,670.4 690.1,695.5 C690.9,712.5 691.8,793.0 692.6,793.0 C693.7,793.0 694.9,736.8 696.0,734.1 C696.8,732.1 697.7,732.7 698.5,730.8 C699.6,728.3 700.7,695.5 701.8,695.5 C702.9,695.5 704.1,754.9 705.2,759.3 C707.2,767.0 709.1,771.1 711.1,771.1 C712.5,771.1 713.9,749.2 715.3,749.2 C716.1,749.2 717.0,761.0 717.8,761.0 C718.9,761.0 720.1,722.4 721.2,722.4 C722.3,722.4 723.4,756.0 724.5,756.0 C725.6,756.0 726.8,755.4 727.9,754.3 C728.9,753.3 729.9,647.6 730.9,647.6 C731.9,647.6 733.0,749.8 734.0,760.0 C735.0,770.2 736.1,777.8 737.1,777.8 C738.2,777.8 739.4,575.0 740.5,575.0 C741.9,575.0 743.3,786.2 744.7,786.2 C746.4,786.2 748.0,688.7 749.7,688.7 C751.1,688.7 752.5,763.1 753.9,774.5 C755.6,788.3 757.3,799.7 759.0,799.7 C760.1,799.7 761.3,779.5 762.4,779.5 C766.6,779.5 770.8,783.3 775.0,786.2 C779.5,789.3 783.9,799.7 788.4,799.7 C791.5,799.7 794.5,788.0 797.6,787.9 C800.9,787.8 804.1,787.8 807.4,787.8 C808.7,787.8 809.9,799.9 811.2,799.9 C814.2,799.9 817.3,799.3 820.3,798.4 C822.3,797.8 824.3,792.3 826.3,792.3 C828.3,792.3 830.4,796.9 832.4,796.9 C835.4,796.9 838.5,793.8 841.5,793.8 C844.5,793.8 847.5,793.8 850.5,793.8 C852.0,793.8 853.5,786.3 855.0,786.3 C856.5,786.3 858.1,793.8 859.6,793.8 C861.6,793.8 863.7,793.8 865.7,793.8 C866.7,793.8 867.7,801.4 868.7,801.4 C872.7,801.4 876.8,801.0 880.8,799.9 C882.3,799.5 883.8,789.8 885.3,789.3 C888.3,788.3 891.4,787.8 894.4,787.8 C895.9,787.8 897.5,792.3 899.0,792.3 C900.5,792.3 902.0,760.5 903.5,760.5 C904.8,760.5 906.0,791.0 907.3,792.3 C908.1,793.1 908.9,793.7 909.7,793.7 C910.8,793.7 912.0,718.4 913.1,718.4 C914.4,718.4 915.8,733.1 917.1,745.3 C918.2,755.7 919.4,789.4 920.5,792.4 C922.5,797.7 924.5,800.4 926.5,800.4 C928.3,800.4 930.1,800.4 931.9,800.4 C933.0,800.4 934.2,710.3 935.3,710.3 C936.4,710.3 937.5,799.1 938.6,799.1 C941.7,799.1 944.9,780.3 948.0,780.3 C950.7,780.3 953.4,795.0 956.1,795.0 C957.1,795.0 958.0,749.0 959.0,720.0 C959.7,700.0 960.3,650.3 961.0,650.3 C961.7,650.3 962.3,688.6 963.0,720.0 C963.4,738.8 963.8,800.4 964.2,800.4 C967.8,800.4 971.3,797.7 974.9,793.7 C977.6,790.6 980.3,758.7 983.0,758.7 C984.3,758.7 985.7,799.1 987.0,799.1 C989.2,799.1 991.5,795.5 993.7,793.7 C996.4,791.5 999.1,787.0 1001.8,787.0 C1004.5,787.0 1007.2,791.5 1009.9,793.7 C1012.6,795.9 1015.3,800.4 1018.0,800.4 C1018.6,800.4 1019.2,745.2 1019.8,720.0 C1020.4,696.2 1020.9,652.4 1021.5,652.4 C1022.1,652.4 1022.6,704.7 1023.2,720.0 C1024.6,757.7 1026.0,799.1 1027.4,799.1 C1028.7,799.1 1030.1,792.4 1031.4,792.4 C1035.3,792.4 1039.1,794.1 1043.0,795.0 L1043.0,803.4 L124.2,803.4 Z" fill="rgba(125,155,216,0.2)"/>
<path d="M124.2,793.6 C127.1,793.7 130.0,793.7 132.9,794.0 C134.0,794.1 135.1,800.0 136.2,800.0 C137.3,800.0 138.3,798.7 139.4,798.7 C140.3,798.7 141.3,801.0 142.2,801.0 C144.7,801.0 147.1,800.9 149.6,800.5 C150.5,800.4 151.4,795.3 152.3,793.6 C153.5,791.2 154.8,788.0 156.0,788.0 C158.2,788.0 160.3,788.0 162.5,788.0 C163.7,788.0 165.0,795.5 166.2,795.5 C167.1,795.5 168.1,793.8 169.0,791.8 C170.1,789.6 171.1,774.2 172.2,774.2 C173.3,774.2 174.4,801.0 175.5,801.0 C176.7,801.0 177.9,796.1 179.1,791.8 C179.9,789.0 180.7,778.8 181.5,778.8 C182.9,778.8 184.2,790.6 185.6,791.8 C187.5,793.4 189.3,792.9 191.2,794.5 C192.1,795.3 193.0,801.0 193.9,801.0 C196.1,801.0 198.2,798.2 200.4,798.2 C201.6,798.2 202.9,800.0 204.1,800.0 C205.9,800.0 207.8,795.9 209.6,786.2 C210.3,782.3 211.1,746.8 211.8,720.0 C212.4,699.3 212.9,642.4 213.5,642.4 C214.1,642.4 214.6,686.9 215.2,720.0 C215.5,737.5 215.8,788.0 216.1,788.0 C217.3,788.0 218.6,788.0 219.8,788.0 C220.4,788.0 221.1,801.0 221.7,801.0 C224.5,801.0 227.2,800.5 230.0,800.5 C231.7,800.5 233.4,800.7 235.1,800.7 C237.3,800.7 239.4,793.1 241.6,793.1 C244.1,793.1 246.7,793.2 249.2,793.6 C250.2,793.7 251.2,799.7 252.2,799.7 C253.2,799.7 254.3,791.6 255.3,791.6 C256.6,791.6 258.0,794.5 259.3,794.6 C264.0,795.0 268.7,795.1 273.4,795.1 C274.7,795.1 276.1,791.6 277.4,791.6 C278.4,791.6 279.5,800.7 280.5,800.7 C285.5,800.7 290.6,800.7 295.6,800.7 C296.9,800.7 298.3,795.2 299.6,793.6 C301.8,790.9 304.0,787.6 306.2,787.6 C306.9,787.6 307.5,793.9 308.2,794.1 C311.7,794.9 315.3,794.4 318.8,795.1 C320.3,795.4 321.8,800.7 323.3,800.7 C324.8,800.7 326.4,783.0 327.9,783.0 C331.6,783.0 335.3,783.3 339.0,784.5 C339.7,784.7 340.3,788.1 341.0,788.6 C341.7,789.1 342.3,789.4 343.0,789.6 C345.4,790.4 347.7,791.1 350.1,791.1 C351.4,791.1 352.8,786.9 354.1,786.6 C357.5,785.8 360.8,786.3 364.2,785.5 C365.0,785.3 365.9,783.0 366.7,783.0 C367.9,783.0 369.1,790.6 370.3,790.6 C372.0,790.6 373.6,788.6 375.3,788.6 C377.7,788.6 380.0,788.6 382.4,788.6 C383.7,788.6 385.1,784.0 386.4,784.0 C388.4,784.0 390.4,785.2 392.4,786.6 C393.8,787.5 395.1,790.7 396.5,792.6 C397.5,794.0 398.5,796.6 399.5,796.6 C400.5,796.6 401.5,796.4 402.5,796.1 C404.2,795.6 405.9,790.9 407.6,789.6 C409.9,787.9 412.3,786.0 414.6,786.0 C416.0,786.0 417.3,786.6 418.7,787.0 C420.0,787.4 421.4,788.6 422.7,788.6 C423.7,788.6 424.7,788.6 425.7,788.6 C427.4,788.6 429.1,791.6 430.8,791.6 C431.3,791.6 431.8,764.5 432.3,750.0 C432.8,735.5 433.3,704.5 433.8,704.5 C434.3,704.5 434.8,734.7 435.3,750.0 C435.8,765.3 436.3,796.6 436.8,796.6 C439.2,796.6 441.5,796.6 443.9,796.6 C444.9,796.6 445.9,792.2 446.9,791.6 C448.9,790.4 450.9,789.6 452.9,789.6 C453.9,789.6 455.0,792.2 456.0,792.6 C457.7,793.2 459.3,793.1 461.0,793.6 C463.4,794.3 465.7,798.8 468.1,799.7 C469.4,800.2 470.8,800.7 472.1,800.7 C473.5,800.7 474.8,792.6 476.2,792.6 C477.9,792.6 479.5,792.6 481.2,792.6 C482.6,792.6 483.9,800.7 485.3,800.7 C486.6,800.7 488.0,792.6 489.3,792.6 C490.6,792.6 492.0,800.7 493.3,800.7 C495.3,800.7 497.4,800.0 499.4,798.7 C500.7,797.9 502.1,793.9 503.4,784.5 C504.2,778.8 505.0,723.0 505.8,680.0 C506.3,651.4 506.9,572.0 507.4,572.0 C507.9,572.0 508.5,628.3 509.0,680.0 C509.2,696.2 509.3,745.9 509.5,750.0 C510.8,782.5 512.2,788.7 513.5,790.6 C514.8,792.5 516.2,793.6 517.5,793.6 C518.9,793.6 520.2,792.8 521.6,791.6 C522.6,790.7 523.6,780.5 524.6,780.5 C525.6,780.5 526.6,796.6 527.6,796.6 C528.4,796.6 529.3,767.4 530.1,767.4 C531.3,767.4 532.5,796.6 533.7,796.6 C535.4,796.6 537.0,793.5 538.7,790.6 C540.0,788.3 541.4,778.5 542.7,778.5 C543.7,778.5 544.8,800.7 545.8,800.7 C546.8,800.7 547.8,795.9 548.8,793.6 C550.8,789.0 552.8,780.5 554.8,780.5 C556.2,780.5 557.5,796.6 558.9,796.6 C560.6,796.6 562.2,788.6 563.9,788.6 C565.6,788.6 567.3,791.6 569.0,793.6 C570.7,795.5 572.3,800.2 574.0,800.7 C574.5,800.9 574.9,801.0 575.4,801.0 C578.1,801.0 580.7,800.1 583.4,798.3 C584.8,797.4 586.1,786.2 587.5,786.2 C588.8,786.2 590.2,798.3 591.5,798.3 C593.7,798.3 596.0,796.5 598.2,791.6 C598.9,790.1 599.6,763.4 600.3,763.4 C601.2,763.4 602.0,787.6 602.9,787.6 C604.0,787.6 605.2,684.0 606.3,684.0 C607.4,684.0 608.6,742.8 609.7,760.7 C610.8,778.1 611.9,801.0 613.0,801.0 C614.1,801.0 615.3,731.1 616.4,731.1 C617.5,731.1 618.6,798.3 619.7,798.3 C621.3,798.3 622.9,728.4 624.5,728.4 C625.6,728.4 626.7,797.0 627.8,797.0 C628.7,797.0 629.6,679.1 630.5,640.0 C632.1,570.4 633.7,480.0 635.3,480.0 C636.4,480.0 637.4,564.6 638.5,640.0 C639.0,675.3 639.5,797.0 640.0,797.0 C640.9,797.0 641.7,792.5 642.6,787.6 C643.9,780.0 645.3,722.3 646.6,719.0 C648.0,715.6 649.3,713.6 650.7,713.6 C651.8,713.6 652.9,784.9 654.0,784.9 C656.9,784.9 659.9,743.6 662.8,736.5 C664.1,733.3 665.5,729.7 666.8,729.7 C668.1,729.7 669.5,756.6 670.8,756.6 C672.6,756.6 674.4,708.2 676.2,708.2 C677.6,708.2 678.9,709.1 680.3,710.9 C681.3,712.3 682.4,794.6 683.4,794.6 C684.4,794.6 685.4,646.7 686.4,646.7 C687.6,646.7 688.9,670.4 690.1,695.5 C690.9,712.5 691.8,793.0 692.6,793.0 C693.7,793.0 694.9,736.8 696.0,734.1 C696.8,732.1 697.7,732.7 698.5,730.8 C699.6,728.3 700.7,695.5 701.8,695.5 C702.9,695.5 704.1,754.9 705.2,759.3 C707.2,767.0 709.1,771.1 711.1,771.1 C712.5,771.1 713.9,749.2 715.3,749.2 C716.1,749.2 717.0,761.0 717.8,761.0 C718.9,761.0 720.1,722.4 721.2,722.4 C722.3,722.4 723.4,756.0 724.5,756.0 C725.6,756.0 726.8,755.4 727.9,754.3 C728.9,753.3 729.9,647.6 730.9,647.6 C731.9,647.6 733.0,749.8 734.0,760.0 C735.0,770.2 736.1,777.8 737.1,777.8 C738.2,777.8 739.4,575.0 740.5,575.0 C741.9,575.0 743.3,786.2 744.7,786.2 C746.4,786.2 748.0,688.7 749.7,688.7 C751.1,688.7 752.5,763.1 753.9,774.5 C755.6,788.3 757.3,799.7 759.0,799.7 C760.1,799.7 761.3,779.5 762.4,779.5 C766.6,779.5 770.8,783.3 775.0,786.2 C779.5,789.3 783.9,799.7 788.4,799.7 C791.5,799.7 794.5,788.0 797.6,787.9 C800.9,787.8 804.1,787.8 807.4,787.8 C808.7,787.8 809.9,799.9 811.2,799.9 C814.2,799.9 817.3,799.3 820.3,798.4 C822.3,797.8 824.3,792.3 826.3,792.3 C828.3,792.3 830.4,796.9 832.4,796.9 C835.4,796.9 838.5,793.8 841.5,793.8 C844.5,793.8 847.5,793.8 850.5,793.8 C852.0,793.8 853.5,786.3 855.0,786.3 C856.5,786.3 858.1,793.8 859.6,793.8 C861.6,793.8 863.7,793.8 865.7,793.8 C866.7,793.8 867.7,801.4 868.7,801.4 C872.7,801.4 876.8,801.0 880.8,799.9 C882.3,799.5 883.8,789.8 885.3,789.3 C888.3,788.3 891.4,787.8 894.4,787.8 C895.9,787.8 897.5,792.3 899.0,792.3 C900.5,792.3 902.0,760.5 903.5,760.5 C904.8,760.5 906.0,791.0 907.3,792.3 C908.1,793.1 908.9,793.7 909.7,793.7 C910.8,793.7 912.0,718.4 913.1,718.4 C914.4,718.4 915.8,733.1 917.1,745.3 C918.2,755.7 919.4,789.4 920.5,792.4 C922.5,797.7 924.5,800.4 926.5,800.4 C928.3,800.4 930.1,800.4 931.9,800.4 C933.0,800.4 934.2,710.3 935.3,710.3 C936.4,710.3 937.5,799.1 938.6,799.1 C941.7,799.1 944.9,780.3 948.0,780.3 C950.7,780.3 953.4,795.0 956.1,795.0 C957.1,795.0 958.0,749.0 959.0,720.0 C959.7,700.0 960.3,650.3 961.0,650.3 C961.7,650.3 962.3,688.6 963.0,720.0 C963.4,738.8 963.8,800.4 964.2,800.4 C967.8,800.4 971.3,797.7 974.9,793.7 C977.6,790.6 980.3,758.7 983.0,758.7 C984.3,758.7 985.7,799.1 987.0,799.1 C989.2,799.1 991.5,795.5 993.7,793.7 C996.4,791.5 999.1,787.0 1001.8,787.0 C1004.5,787.0 1007.2,791.5 1009.9,793.7 C1012.6,795.9 1015.3,800.4 1018.0,800.4 C1018.6,800.4 1019.2,745.2 1019.8,720.0 C1020.4,696.2 1020.9,652.4 1021.5,652.4 C1022.1,652.4 1022.6,704.7 1023.2,720.0 C1024.6,757.7 1026.0,799.1 1027.4,799.1 C1028.7,799.1 1030.1,792.4 1031.4,792.4 C1035.3,792.4 1039.1,794.1 1043.0,795.0" class="ln" stroke="#7c9bd8"/>
<path d="M124.5,788.6 C125.7,790.4 126.9,792.0 128.1,794.1 C129.8,797.0 131.4,802.7 133.1,804.2 C134.8,805.8 136.5,805.4 138.2,807.2 C138.9,807.9 139.5,811.5 140.2,812.3 C142.2,814.6 144.2,814.7 146.2,816.3 C149.9,819.2 153.6,822.4 157.3,827.4 C158.6,829.2 160.0,832.6 161.3,834.5 C163.7,837.8 166.0,839.2 168.4,842.5 C169.7,844.4 171.1,847.5 172.4,849.6 C174.1,852.2 175.8,855.3 177.5,856.6 C178.8,857.6 180.2,857.7 181.5,858.7 C183.2,860.0 184.9,864.1 186.6,866.7 C187.3,867.7 187.9,868.9 188.6,869.7 C192.6,874.6 196.7,875.3 200.7,880.8 C201.7,882.2 202.7,885.5 203.7,886.9 C206.1,890.2 208.5,889.6 210.9,893.9 C211.5,895.0 212.2,900.6 212.8,901.7 C216.5,908.3 220.2,906.8 223.9,912.1 C224.5,913.0 225.2,915.2 225.8,916.1 C229.3,921.2 232.8,922.1 236.3,926.5 C237.2,927.6 238.0,929.3 238.9,930.4 C241.5,933.6 244.1,934.2 246.7,938.2 C247.3,939.2 248.0,942.6 248.6,942.8 C249.9,943.2 251.2,943.0 252.5,943.4 C253.2,943.6 253.8,948.7 254.5,949.9 C258.0,955.9 261.4,954.7 264.9,960.3 C265.6,961.4 266.2,964.5 266.9,965.5 C268.6,968.2 270.4,967.9 272.1,970.8 C272.5,971.5 273.0,974.0 273.4,974.7 C277.1,980.8 280.8,979.9 284.5,985.1 C285.1,986.0 285.8,988.1 286.4,989.0 C289.9,993.7 293.3,993.0 296.8,998.1 C297.5,999.1 298.1,1002.3 298.8,1003.3 C300.5,1006.0 302.3,1006.5 304.0,1008.5 C306.2,1011.0 308.3,1013.2 310.5,1017.7 C310.9,1018.6 311.4,1020.9 311.8,1021.6 C315.3,1027.1 318.7,1026.1 322.2,1030.7 C323.1,1031.8 323.9,1035.9 324.8,1035.9 C335.6,1035.9 346.5,1035.9 357.3,1035.9 C358.3,1035.9 359.3,1039.6 360.3,1039.6 C372.2,1039.6 384.0,1039.6 395.9,1039.6 C396.7,1039.6 397.6,1042.0 398.4,1042.0 C402.9,1042.0 407.5,1042.0 412.0,1042.0 C412.7,1042.0 413.3,1045.3 414.0,1045.3 C419.6,1045.3 425.1,1045.3 430.7,1045.3 C431.5,1045.3 432.4,1039.0 433.2,1039.0 C444.0,1039.0 454.7,1039.0 465.5,1039.0 C466.8,1039.0 468.0,1035.9 469.3,1035.9 C470.5,1035.9 471.8,1035.9 473.0,1035.9 C477.1,1035.9 481.3,1024.7 485.4,1024.7 C487.1,1024.7 488.7,1024.7 490.4,1024.7 C492.1,1024.7 493.7,1019.0 495.4,1019.0 C498.3,1019.0 501.1,1019.0 504.0,1019.0 C504.9,1019.0 505.7,1037.0 506.6,1037.0 C507.4,1037.0 508.2,1034.0 509.0,1033.0 C511.9,1029.3 514.9,1028.5 517.8,1024.7 C520.7,1020.9 523.6,1012.0 526.5,1006.0 C527.7,1003.5 529.0,1000.7 530.2,998.6 C532.3,995.1 534.3,989.9 536.4,989.9 C537.6,989.9 538.8,989.9 540.0,989.9 C540.9,989.9 541.7,984.0 542.6,984.0 C545.1,984.0 547.5,984.0 550.0,984.0 C552.5,984.0 555.1,974.6 557.6,971.0 C558.4,969.9 559.2,968.8 560.0,967.9 C564.0,963.4 568.1,961.6 572.1,956.8 C574.8,953.6 577.5,949.5 580.2,943.7 C582.2,939.4 584.2,931.3 586.2,925.6 C588.2,919.9 590.3,915.1 592.3,909.4 C595.0,901.9 597.6,894.1 600.3,885.2 C602.7,877.3 605.0,868.5 607.4,859.0 C609.4,851.0 611.4,842.3 613.4,832.8 C615.1,824.8 616.8,814.3 618.5,806.6 C619.8,800.6 621.2,794.6 622.5,790.4 C624.5,784.0 626.6,777.0 628.6,775.3 C630.6,773.6 632.6,774.0 634.6,772.3 C636.6,770.5 638.7,758.5 640.7,752.1 C642.0,747.9 643.4,745.4 644.7,740.0 C646.1,734.3 647.5,718.8 648.9,713.4 C652.4,700.0 655.9,695.2 659.4,687.1 C661.8,681.5 664.3,678.2 666.7,671.4 C669.2,664.5 671.6,650.9 674.1,642.0 C676.2,634.4 678.3,628.7 680.4,621.0 C682.1,614.7 683.9,606.3 685.6,600.0 C687.7,592.2 689.9,586.4 692.0,579.0 C693.7,573.0 695.5,568.4 697.2,560.0 C697.9,556.6 698.6,548.9 699.3,546.4 C700.3,542.7 701.4,543.8 702.4,539.0 C702.9,536.7 703.4,511.8 703.9,511.8 C712.9,511.8 721.8,511.8 730.8,511.8 C732.9,511.8 735.0,517.0 737.1,517.0 C741.3,517.0 745.5,517.0 749.7,517.0 C750.7,517.0 751.8,520.6 752.8,520.6 C754.9,520.6 757.0,515.0 759.1,515.0 C760.5,515.0 761.9,517.0 763.3,517.0 C765.1,517.0 766.8,514.9 768.6,513.9 C770.0,513.1 771.4,511.4 772.8,511.4 C778.1,511.3 783.4,511.3 788.7,511.3 C790.8,511.3 792.8,514.8 794.9,517.6 C796.7,520.0 798.5,527.8 800.3,528.4 C801.9,528.9 803.4,528.8 805.0,529.2 C808.1,530.1 811.2,545.0 814.3,545.5 C817.4,546.0 820.6,545.8 823.7,546.3 C825.0,546.5 826.2,549.4 827.5,549.4 C828.8,549.4 830.1,549.1 831.4,548.7 C833.7,548.0 836.1,536.4 838.4,533.1 C839.7,531.3 841.0,528.9 842.3,528.9 C843.6,528.9 844.9,531.7 846.2,531.9 C848.5,532.2 850.9,532.1 853.2,532.3 C859.9,532.9 866.7,550.8 873.4,552.5 C875.0,552.9 876.5,552.9 878.1,553.3 C881.7,554.3 885.4,561.1 889.0,565.8 C890.8,568.1 892.6,570.6 894.4,573.5 C896.5,576.8 898.5,579.9 900.6,585.2 C901.6,587.8 902.7,593.6 903.7,596.1 C906.0,601.8 908.4,602.9 910.7,608.5 C913.0,614.0 915.3,626.3 917.6,633.9 C919.1,638.9 920.7,646.6 922.2,647.7 C923.7,648.8 925.3,648.4 926.8,649.6 C927.7,650.3 928.7,655.1 929.6,657.0 C933.9,665.9 938.2,670.4 942.5,677.0 C951.7,691.0 960.8,704.1 970.0,718.0 C978.7,731.3 987.5,746.7 996.2,758.5 C997.7,760.6 999.3,762.2 1000.8,764.3 C1007.9,773.8 1014.9,786.2 1022.0,796.5 C1029.0,806.7 1036.0,816.2 1043.0,826.0 L1043.0,1095 L124.5,1095 Z" fill="rgba(52,199,89,0.2)"/>
<path d="M124.5,788.6 C125.7,790.4 126.9,792.0 128.1,794.1 C129.8,797.0 131.4,802.7 133.1,804.2 C134.8,805.8 136.5,805.4 138.2,807.2 C138.9,807.9 139.5,811.5 140.2,812.3 C142.2,814.6 144.2,814.7 146.2,816.3 C149.9,819.2 153.6,822.4 157.3,827.4 C158.6,829.2 160.0,832.6 161.3,834.5 C163.7,837.8 166.0,839.2 168.4,842.5 C169.7,844.4 171.1,847.5 172.4,849.6 C174.1,852.2 175.8,855.3 177.5,856.6 C178.8,857.6 180.2,857.7 181.5,858.7 C183.2,860.0 184.9,864.1 186.6,866.7 C187.3,867.7 187.9,868.9 188.6,869.7 C192.6,874.6 196.7,875.3 200.7,880.8 C201.7,882.2 202.7,885.5 203.7,886.9 C206.1,890.2 208.5,889.6 210.9,893.9 C211.5,895.0 212.2,900.6 212.8,901.7 C216.5,908.3 220.2,906.8 223.9,912.1 C224.5,913.0 225.2,915.2 225.8,916.1 C229.3,921.2 232.8,922.1 236.3,926.5 C237.2,927.6 238.0,929.3 238.9,930.4 C241.5,933.6 244.1,934.2 246.7,938.2 C247.3,939.2 248.0,942.6 248.6,942.8 C249.9,943.2 251.2,943.0 252.5,943.4 C253.2,943.6 253.8,948.7 254.5,949.9 C258.0,955.9 261.4,954.7 264.9,960.3 C265.6,961.4 266.2,964.5 266.9,965.5 C268.6,968.2 270.4,967.9 272.1,970.8 C272.5,971.5 273.0,974.0 273.4,974.7 C277.1,980.8 280.8,979.9 284.5,985.1 C285.1,986.0 285.8,988.1 286.4,989.0 C289.9,993.7 293.3,993.0 296.8,998.1 C297.5,999.1 298.1,1002.3 298.8,1003.3 C300.5,1006.0 302.3,1006.5 304.0,1008.5 C306.2,1011.0 308.3,1013.2 310.5,1017.7 C310.9,1018.6 311.4,1020.9 311.8,1021.6 C315.3,1027.1 318.7,1026.1 322.2,1030.7 C323.1,1031.8 323.9,1035.9 324.8,1035.9 C335.6,1035.9 346.5,1035.9 357.3,1035.9 C358.3,1035.9 359.3,1039.6 360.3,1039.6 C372.2,1039.6 384.0,1039.6 395.9,1039.6 C396.7,1039.6 397.6,1042.0 398.4,1042.0 C402.9,1042.0 407.5,1042.0 412.0,1042.0 C412.7,1042.0 413.3,1045.3 414.0,1045.3 C419.6,1045.3 425.1,1045.3 430.7,1045.3 C431.5,1045.3 432.4,1039.0 433.2,1039.0 C444.0,1039.0 454.7,1039.0 465.5,1039.0 C466.8,1039.0 468.0,1035.9 469.3,1035.9 C470.5,1035.9 471.8,1035.9 473.0,1035.9 C477.1,1035.9 481.3,1024.7 485.4,1024.7 C487.1,1024.7 488.7,1024.7 490.4,1024.7 C492.1,1024.7 493.7,1019.0 495.4,1019.0 C498.3,1019.0 501.1,1019.0 504.0,1019.0 C504.9,1019.0 505.7,1037.0 506.6,1037.0 C507.4,1037.0 508.2,1034.0 509.0,1033.0 C511.9,1029.3 514.9,1028.5 517.8,1024.7 C520.7,1020.9 523.6,1012.0 526.5,1006.0 C527.7,1003.5 529.0,1000.7 530.2,998.6 C532.3,995.1 534.3,989.9 536.4,989.9 C537.6,989.9 538.8,989.9 540.0,989.9 C540.9,989.9 541.7,984.0 542.6,984.0 C545.1,984.0 547.5,984.0 550.0,984.0 C552.5,984.0 555.1,974.6 557.6,971.0 C558.4,969.9 559.2,968.8 560.0,967.9 C564.0,963.4 568.1,961.6 572.1,956.8 C574.8,953.6 577.5,949.5 580.2,943.7 C582.2,939.4 584.2,931.3 586.2,925.6 C588.2,919.9 590.3,915.1 592.3,909.4 C595.0,901.9 597.6,894.1 600.3,885.2 C602.7,877.3 605.0,868.5 607.4,859.0 C609.4,851.0 611.4,842.3 613.4,832.8 C615.1,824.8 616.8,814.3 618.5,806.6 C619.8,800.6 621.2,794.6 622.5,790.4 C624.5,784.0 626.6,777.0 628.6,775.3 C630.6,773.6 632.6,774.0 634.6,772.3 C636.6,770.5 638.7,758.5 640.7,752.1 C642.0,747.9 643.4,745.4 644.7,740.0 C646.1,734.3 647.5,718.8 648.9,713.4 C652.4,700.0 655.9,695.2 659.4,687.1 C661.8,681.5 664.3,678.2 666.7,671.4 C669.2,664.5 671.6,650.9 674.1,642.0 C676.2,634.4 678.3,628.7 680.4,621.0 C682.1,614.7 683.9,606.3 685.6,600.0 C687.7,592.2 689.9,586.4 692.0,579.0 C693.7,573.0 695.5,568.4 697.2,560.0 C697.9,556.6 698.6,548.9 699.3,546.4 C700.3,542.7 701.4,543.8 702.4,539.0 C702.9,536.7 703.4,511.8 703.9,511.8 C712.9,511.8 721.8,511.8 730.8,511.8 C732.9,511.8 735.0,517.0 737.1,517.0 C741.3,517.0 745.5,517.0 749.7,517.0 C750.7,517.0 751.8,520.6 752.8,520.6 C754.9,520.6 757.0,515.0 759.1,515.0 C760.5,515.0 761.9,517.0 763.3,517.0 C765.1,517.0 766.8,514.9 768.6,513.9 C770.0,513.1 771.4,511.4 772.8,511.4 C778.1,511.3 783.4,511.3 788.7,511.3 C790.8,511.3 792.8,514.8 794.9,517.6 C796.7,520.0 798.5,527.8 800.3,528.4 C801.9,528.9 803.4,528.8 805.0,529.2 C808.1,530.1 811.2,545.0 814.3,545.5 C817.4,546.0 820.6,545.8 823.7,546.3 C825.0,546.5 826.2,549.4 827.5,549.4 C828.8,549.4 830.1,549.1 831.4,548.7 C833.7,548.0 836.1,536.4 838.4,533.1 C839.7,531.3 841.0,528.9 842.3,528.9 C843.6,528.9 844.9,531.7 846.2,531.9 C848.5,532.2 850.9,532.1 853.2,532.3 C859.9,532.9 866.7,550.8 873.4,552.5 C875.0,552.9 876.5,552.9 878.1,553.3 C881.7,554.3 885.4,561.1 889.0,565.8 C890.8,568.1 892.6,570.6 894.4,573.5 C896.5,576.8 898.5,579.9 900.6,585.2 C901.6,587.8 902.7,593.6 903.7,596.1 C906.0,601.8 908.4,602.9 910.7,608.5 C913.0,614.0 915.3,626.3 917.6,633.9 C919.1,638.9 920.7,646.6 922.2,647.7 C923.7,648.8 925.3,648.4 926.8,649.6 C927.7,650.3 928.7,655.1 929.6,657.0 C933.9,665.9 938.2,670.4 942.5,677.0 C951.7,691.0 960.8,704.1 970.0,718.0 C978.7,731.3 987.5,746.7 996.2,758.5 C997.7,760.6 999.3,762.2 1000.8,764.3 C1007.9,773.8 1014.9,786.2 1022.0,796.5 C1029.0,806.7 1036.0,816.2 1043.0,826.0" class="ln" stroke="#4cc86a"/>
<line x1="1043" y1="366" x2="1043" y2="1095" stroke="#cfcfd7" stroke-width="2"/>
<text x="107" y="373.0" text-anchor="end" class="ax">6,0</text><text x="107" y="518.8" text-anchor="end" class="ax">4,0</text><text x="107" y="664.6" text-anchor="end" class="ax">2,0</text><text x="107" y="810.4" text-anchor="end" class="ax">0,0</text><text x="107" y="956.2" text-anchor="end" class="ax">-2,0</text><text x="107" y="1102.0" text-anchor="end" class="ax">-4,0</text><text x="1059" y="373.0" class="ax">125</text><text x="1059" y="518.8" class="ax">100</text><text x="1059" y="664.6" class="ax">75</text><text x="1059" y="810.4" class="ax">50</text><text x="1059" y="956.2" class="ax">25</text><text x="1059" y="1102.0" class="ax">0</text><text x="124.8" y="1133" text-anchor="middle" class="ax" style="letter-spacing:1.6px">00:00</text><text x="278.3" y="1133" text-anchor="middle" class="ax" style="letter-spacing:1.6px">04:00</text><text x="431.8" y="1133" text-anchor="middle" class="ax" style="letter-spacing:1.6px">08:00</text><text x="585.0" y="1133" text-anchor="middle" class="ax" style="letter-spacing:1.6px">12:00</text><text x="738.3" y="1133" text-anchor="middle" class="ax" style="letter-spacing:1.6px">16:00</text><text x="891.3" y="1133" text-anchor="middle" class="ax" style="letter-spacing:1.6px">20:00</text><text x="1043.8" y="1133" text-anchor="middle" class="ax" style="letter-spacing:1.6px">24:00</text><text x="69" y="338" class="ax">kW</text>
<rect x="976" y="296" width="135" height="55" rx="6" fill="#d9d9dd"/>
<text x="1044" y="336.5" text-anchor="middle" style="fill:#111114;font-size:37px;letter-spacing:1.3px;font-family:'Liberation Sans',sans-serif">24:00</text>
</svg>
</body></html>
